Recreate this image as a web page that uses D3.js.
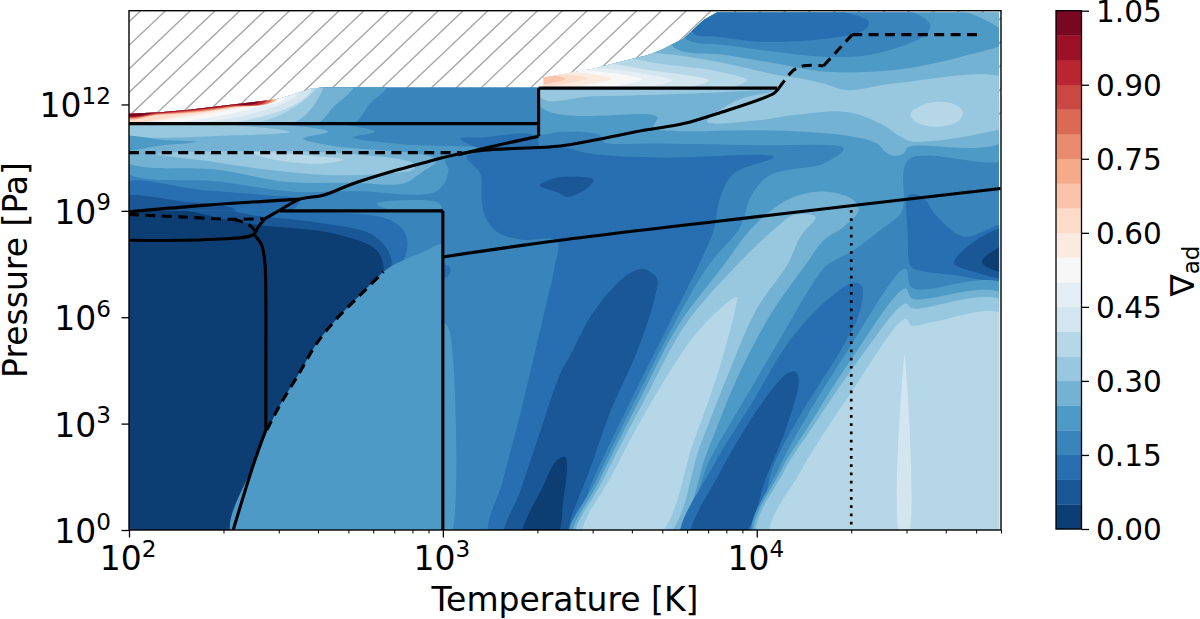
<!DOCTYPE html>
<html>
<head>
<meta charset="utf-8">
<script src="https://cdnjs.cloudflare.com/ajax/libs/d3/7.8.5/d3.min.js"></script>
<style>
  html, body { margin: 0; background: #fff; }
  text { font-family: "DejaVu Sans", sans-serif; fill: #000; }
</style>
</head>
<body>
<svg id="fig" width="1200" height="619"></svg>
<script>
// every contour below is [log10 T, log10 P]
const levels = [0,0.05,0.1,0.15,0.2,0.25,0.3,0.35,0.4,0.45,0.5,0.55,0.6,0.65,0.7,0.75,0.8,0.85,0.9,0.95,1,1.05];
const cbarTicks = [0,0.15,0.3,0.45,0.6,0.75,0.9,1.05];
const xMajor = [100,1000,10000];
const yMajor = [1,1e3,1e6,1e9,1e12];
const rdbu = ["#053061","#2166ac","#4393c3","#92c5de","#d1e5f0","#f7f7f7","#fddbc7","#f4a582","#d6604d","#b2182b","#67001f"];

// upper limit of the table, hatched above it
const tableEdge = [[2,11.74],[2.099,11.78],[2.184,11.84],[2.311,11.98],[2.417,12.09],[2.481,12.17],[2.534,12.31],[2.582,12.45],[2.619,12.48],[3.321,12.48],[3.321,12.76],[3.406,12.89],[3.48,13.01],[3.587,13.25],[3.65,13.39],[3.693,13.53],[3.767,13.86],[3.831,14.38],[3.873,14.59],[4.772,14.59],[4.772,0],[2,0]];

// low pressure side, T > 100 K, P above the 1e9 line
const midIdx4Left = [[2.609,11.5],[2.784,11.23],[2.715,11.07],[2.874,10.88],[3.129,10.76],[3.05,10.57],[3.007,10.43],[3.018,10.15],[2.981,9.56],[2.715,9.56],[2.524,9.54],[2.29,9.82],[1.98,10.15],[1.98,11.56]];
const midIdx5Left = [[2.396,11.5],[2.635,11.23],[2.555,11.04],[2.651,10.83],[2.927,10.6],[2.981,10.43],[2.927,10.05],[2.874,9.77],[2.715,9.79],[2.502,9.82],[2.29,10.15],[1.98,10.45],[1.98,11.56]];
const midIdx6Upper = [[1.98,11.5],[2.29,11.45],[2.513,11.23],[2.343,11.13],[1.98,11.2]];
const midIdx4Wedge = [[1.98,11.07],[2.109,11],[2.215,10.95],[2.109,10.85],[1.98,10.74]];
const midIdx6Mid = [[2.088,10.6],[2.396,10.69],[2.715,10.6],[2.906,10.33],[2.908,10.19],[2.821,10.05],[2.63,10.01],[2.449,10.15],[2.269,10.38]];
const midIdx7Mid = [[2.396,10.64],[2.566,10.57],[2.683,10.45],[2.609,10.33],[2.449,10.47]];
const midIdx2Left = [[1.98,9.77],[2.237,9.58],[2.439,9.44],[2.545,9.3],[2.492,8.9],[1.98,8.9]];
const midIdx1Left = [[1.98,9.38],[2.184,9.25],[2.332,9.07],[2.343,8.9],[1.98,8.9]];
const midIdx4Corner = [[2.789,9.21],[2.981,9.25],[2.996,9.09],[2.821,9.06]];
const midIdx2Sliver = [[3.055,11.04],[3.129,11.07],[3.289,11.13],[3.305,10.8],[3.129,10.74]];

// hot side, the two troughs and the ridge between them
const hotIdx2Big = [[3.076,10.52],[3.119,10.05],[3.124,9.3],[3.135,8.83],[3.172,8.41],[3.246,8.19],[3.363,8.15],[3.356,7.42],[3.321,6.06],[3.246,3.24],[3.193,1.45],[3.15,-0.2],[3.4,-0.2],[3.475,1.36],[3.602,3.71],[3.719,5.78],[3.815,7.47],[3.863,8.46],[3.884,9.39],[3.927,10.05],[4.054,10.52],[3.693,10.5],[3.48,10.6],[3.374,10.79],[3.129,10.69]];
const hotIdx1Blob = [[3.31,9.72],[3.352,9.91],[3.406,9.96],[3.48,9.88],[3.459,9.63],[3.395,9.39],[3.374,9.49]];
const hotIdx1Trough1 = [[3.197,-0.2],[3.246,1.08],[3.31,2.77],[3.374,4.41],[3.406,4.93],[3.48,6.15],[3.586,7.19],[3.639,7.36],[3.682,7.09],[3.677,6.62],[3.618,5.02],[3.533,3.33],[3.469,1.73],[3.411,0.42],[3.385,-0.2]];
const hotIdx0Trough1 = [[3.255,-0.2],[3.321,1.27],[3.363,1.97],[3.39,2.06],[3.395,1.73],[3.384,0.89],[3.36,-0.2]];
const hotIdx4Ridge = [[3.405,-0.2],[3.486,1.36],[3.616,3.71],[3.735,5.78],[3.847,7.47],[3.948,8.55],[3.98,9.39],[4.033,9.96],[4.097,10.15],[4.213,10.33],[4.277,10.76],[4.012,10.85],[3.693,10.9],[3.512,10.95],[3.501,11.13],[3.374,11.23],[3.31,11.18],[3.31,11.95],[4.8,11.95],[4.8,10.48],[4.484,10.45],[4.468,9.21],[4.458,8.92],[4.394,8.46],[4.309,7.89],[4.224,7.47],[4.182,7],[4.081,5.49],[3.969,3.8],[3.847,1.92],[3.745,-0.2]];
const hotIdx5Ridge = [[3.418,-0.2],[3.496,1.36],[3.629,3.71],[3.751,5.78],[3.895,7.47],[3.969,8.36],[4.033,8.92],[4.118,9.39],[4.224,9.54],[4.309,9.3],[4.325,9.02],[4.277,8.55],[4.213,8.17],[4.155,7.47],[4.043,6.06],[3.937,4.27],[3.842,2.2],[3.73,-0.2]];
const hotIdx6Ridge = [[3.426,-0.2],[3.507,1.36],[3.645,3.71],[3.772,5.78],[3.937,7.47],[4.065,8.55],[4.118,8.88],[4.187,8.83],[4.139,8.27],[4.097,7.47],[4.001,6.25],[3.916,4.55],[3.82,2.39],[3.708,-0.2]];
const hotIdx7Ridge = [[3.447,-0.2],[3.544,1.64],[3.671,3.71],[3.82,5.68],[3.937,6.57],[3.932,6.25],[3.884,4.65],[3.799,2.49],[3.68,-0.2]];
const hotIdx2Trough2 = [[3.76,-0.2],[3.863,1.83],[3.98,3.52],[4.118,5.49],[4.256,6.72],[4.314,6.98],[4.336,6.86],[4.325,6.06],[4.277,5.21],[4.139,3.24],[4.054,1.83],[3.978,-0.2]];
const hotIdx1Trough2 = [[3.793,-0.2],[3.884,1.64],[4.012,3.52],[4.097,4.41],[4.123,4.46],[4.134,4.23],[4.097,2.96],[4.033,1.55],[3.95,-0.2]];
const hotIdx4Low = [[3.99,-0.2],[4.065,1.64],[4.15,3.05],[4.288,5.03],[4.474,7.37],[4.495,6.83],[4.8,6.86],[4.8,-0.2]];
const hotIdx5Low = [[3.997,-0.2],[4.075,1.64],[4.16,2.86],[4.299,4.79],[4.474,6.81],[4.495,6.53],[4.8,6.58],[4.8,-0.2]];
const hotIdx6Low = [[4.005,-0.2],[4.086,1.64],[4.182,2.96],[4.32,4.74],[4.474,6.39],[4.495,6.25],[4.8,6.39],[4.8,-0.2]];
const hotIdx7Low = [[4.047,-0.2],[4.139,1.64],[4.224,2.86],[4.299,3.85],[4.474,5.96],[4.495,5.76],[4.564,5.87],[4.8,6.01],[4.8,-0.2]];
const hotIdx8Spike = [[4.458,-0.2],[4.471,4.93],[4.481,-0.2]];
const hotIdx4Strip = [[3,-0.2],[3.023,-0.2],[3.023,5.54],[3.007,5.82],[3,5.7]];
const hotIdx2Strip = [[3,7.47],[3.023,7.4],[3.02,7.2],[3,7.1]];
const hotIdx2Right = [[4.484,9.44],[4.527,9.39],[4.575,8.83],[4.66,8.27],[4.8,8.6],[4.8,7.12],[4.628,7.19],[4.5,7.37],[4.488,7.47],[4.481,8.36]];
const hotIdx1Right = [[4.628,7.56],[4.692,8.13],[4.8,8.5],[4.8,7.14],[4.692,7.28],[4.633,7.47]];
const hotIdx0Right = [[4.718,7.61],[4.8,8.03],[4.8,7.28],[4.724,7.47]];

// high pressure side
const topIdx5Big = [[3.31,14.8],[4.8,14.8],[4.8,11.04],[4.484,10.8],[4.468,10.62],[4.437,10.55],[4.41,10.66],[4.383,10.9],[4.277,11.13],[4.012,11.27],[3.746,11.25],[3.671,11.34],[3.682,11.65],[3.31,11.95]];
const topIdx6Big = [[3.31,14],[3.587,13.53],[3.746,13.39],[3.905,13.15],[4.065,12.83],[4.139,12.73],[4.213,12.59],[4.288,12.4],[4.437,12.59],[4.8,12.68],[4.8,11.46],[4.713,11.18],[4.5,10.95],[4.468,11.04],[4.394,11.46],[4.288,11.79],[4.118,11.7],[4.012,11.56],[3.842,11.51],[3.937,12.12],[4.054,12.38],[3.799,12.31],[3.48,12.23],[3.31,12.2]];
const topIdx7Lens = [[4.49,11.74],[4.516,11.93],[4.564,12.07],[4.628,12.01],[4.657,11.79],[4.639,11.51],[4.564,11.37],[4.506,11.51]];
const topIdx4 = [[3.735,13.62],[3.905,13.39],[4.065,13.15],[4.224,12.92],[4.437,12.97],[4.649,13.34],[4.798,13.77],[4.798,13.95],[4.628,14.7],[3.693,14.7]];
const topIdx3 = [[3.773,13.86],[3.905,13.67],[4.065,13.48],[4.224,13.34],[4.383,13.44],[4.543,14],[4.551,14.28],[4.458,14.7],[3.746,14.7]];
const topIdx2 = [[3.799,14],[3.873,13.91],[4.012,13.77],[4.224,13.86],[4.341,14.09],[4.357,14.33],[4.277,14.61],[4.224,14.7],[3.799,14.7]];

// lobes above the 2000 K step
const lobeIdx7 = [[3.31,14],[3.555,13.39],[3.693,13.15],[3.852,12.97],[3.969,12.68],[3.873,12.4],[3.31,12.4]];
const lobeIdx8 = [[3.31,14],[3.501,13.25],[3.629,13.01],[3.757,12.85],[3.847,12.68],[3.735,12.4],[3.31,12.4]];
const lobeIdx9 = [[3.31,14],[3.438,13.15],[3.555,12.97],[3.65,12.85],[3.73,12.68],[3.64,12.48],[3.31,12.4]];
const lobeIdx10 = [[3.31,13.53],[3.406,13.06],[3.48,12.95],[3.565,12.85],[3.634,12.71],[3.555,12.53],[3.31,12.45]];
const lobeIdx11 = [[3.31,13.01],[3.374,12.95],[3.459,12.87],[3.539,12.73],[3.47,12.57],[3.31,12.48]];
const lobeIdx12 = [[3.31,12.89],[3.374,12.85],[3.427,12.81],[3.459,12.73],[3.416,12.63],[3.31,12.54]];
const lobeIdx13 = [[3.31,12.83],[3.363,12.8],[3.39,12.72],[3.363,12.64],[3.31,12.59]];

// block above the solid 11.46 line, T < 2000 K
const stepIdx4 = [[2.704,11.4],[2.768,12.03],[2.821,12.48],[2.83,13.06],[1.98,13.06],[1.98,11.4]];
const stepIdx5 = [[2.587,11.4],[2.651,11.93],[2.715,12.48],[2.726,13.06],[1.98,13.06],[1.98,11.4]];
const stepIdx6 = [[2.502,11.4],[2.577,11.84],[2.619,12.48],[2.63,13.06],[1.98,13.06],[1.98,11.4]];
const stepIdx7 = [[2.354,11.4],[2.481,11.7],[2.577,12.26],[2.609,12.59],[2.63,13.06],[1.98,13.06],[1.98,11.4]];
const stepIdx8 = [[2.205,11.4],[2.396,11.6],[2.524,11.98],[2.577,12.34],[2.609,13.06],[1.98,13.06],[1.98,11.4]];
const stepIdx9 = [[1.98,11.45],[2.29,11.56],[2.449,11.89],[2.534,12.26],[2.566,13.06],[1.98,13.06]];
const stepIdx10 = [[1.98,11.51],[2.237,11.6],[2.396,11.89],[2.502,12.2],[2.534,13.06],[1.98,13.06]];
const stepIdx11 = [[1.98,11.58],[2.184,11.65],[2.343,11.89],[2.47,12.14],[2.502,13.06],[1.98,13.06]];
const stepIdx12 = [[1.98,11.6],[2.184,11.71],[2.343,11.93],[2.449,12.12],[2.481,13.06],[1.98,13.06]];
const stepIdx14 = [[1.98,11.64],[2.099,11.71],[2.205,11.77],[2.322,11.91],[2.47,12.14],[2.481,13.06],[1.98,13.06]];
const stepIdx16 = [[1.98,11.68],[2.099,11.73],[2.205,11.8],[2.322,11.93],[2.455,12.12],[2.47,13.06],[1.98,13.06]];
const stepIdx18 = [[1.98,11.71],[2.099,11.75],[2.205,11.83],[2.322,11.95],[2.439,12.1],[2.46,13.06],[1.98,13.06]];
const stepIdx20 = [[1.98,11.73],[2.099,11.77],[2.205,11.85],[2.322,11.98],[2.417,12.09],[2.44,13.06],[1.98,13.06]];

// block below 1e9 Pa, T < 1000 K
const coldIdx2 = [[1.98,9.2],[2.481,9],[2.821,8.78],[2.874,8.45],[2.887,8.08],[2.874,7.61],[2.832,7.28],[2.29,-0.2],[1.98,-0.2]];
const coldIdx1 = [[1.98,9.1],[2.428,8.83],[2.609,8.66],[2.768,8.36],[2.821,7.94],[2.837,7.52],[2.82,7.2],[2.2,-0.2],[1.98,-0.2]];
const coldIdx0 = [[1.98,8.86],[2.332,8.72],[2.412,8.6],[2.651,8.36],[2.789,7.89],[2.811,7.33],[2.8,7.14],[2.3,-0.2],[1.98,-0.2]];
const coldIdx4Gas = [[2.33,-0.2],[2.396,1.83],[2.439,2.77],[2.481,3.52],[2.545,4.46],[2.598,5.26],[2.662,5.96],[2.736,6.62],[2.811,7.28],[2.853,7.52],[2.927,7.8],[3.018,8.03],[3.018,-0.2]];

// black phase boundaries
const solidLines = [
  [[2,11.46],[3.305,11.46]],
  [[3.305,12.46],[3.305,11.1]],
  [[3.305,12.46],[4.065,12.46]],
  [[3.305,11.1],[3.129,10.76],[3.05,10.58]],
  [[2.433,8.78],[2.481,9.02],[2.545,9.33],[2.619,9.44],[2.715,9.77],[2.853,10.15],[2.949,10.38],[3.05,10.6],[3.129,10.71],[3.374,10.83],[3.48,10.99],[3.64,11.27],[3.767,11.46],[3.873,11.74],[4.054,12.31],[4.07,12.45]],
  [[2,8.97],[2.247,9.16],[2.545,9.33]],
  [[2,8.17],[2.247,8.19],[2.396,8.33],[2.412,8.55],[2.433,8.78]],
  [[2.401,8.31],[2.423,8.03],[2.433,7.52],[2.436,6.5],[2.436,4.5],[2.436,2.82]],
  [[2.436,2.82],[2.396,1.83],[2.332,0]],
  [[2.481,9],[3,9]],
  [[3,9],[3,0]],
  [[3,7.7],[3.374,8.17],[4.075,8.91],[4.777,9.63]]
];
const dashedLines = [
  [[2,10.64],[3.06,10.64]],
  [[4.07,12.45],[4.118,12.97],[4.15,13.09],[4.213,13.09]],
  [[4.213,13.09],[4.304,13.97]],
  [[4.304,13.97],[4.702,13.97]],
  [[2,8.9],[2.162,8.83],[2.332,8.76],[2.428,8.78]],
  [[2.332,8.76],[2.38,8.62],[2.401,8.44]],
  [[2.439,2.82],[2.481,3.52],[2.545,4.46],[2.598,5.26],[2.662,5.96],[2.736,6.62],[2.811,7.28]]
];
const dottedLine = [[4.301,9.02],[4.301,0]];

const midLayers = [[4,midIdx4Left],[5,midIdx5Left],[6,midIdx6Upper],[4,midIdx4Wedge],[6,midIdx6Mid],[7,midIdx7Mid],[2,midIdx2Left],[1,midIdx1Left],[4,midIdx4Corner],[2,midIdx2Sliver]];
const hotLayers = [[2,hotIdx2Big],[1,hotIdx1Blob],[1,hotIdx1Trough1],[0,hotIdx0Trough1],[4,hotIdx4Ridge],[5,topIdx5Big],[6,topIdx6Big],[7,topIdx7Lens],[4,topIdx4],[3,topIdx3],[2,topIdx2],[5,hotIdx5Ridge],[6,hotIdx6Ridge],[7,hotIdx7Ridge],[2,hotIdx2Trough2],[1,hotIdx1Trough2],[2,hotIdx2Right],[1,hotIdx1Right],[0,hotIdx0Right],[4,hotIdx4Low],[5,hotIdx5Low],[6,hotIdx6Low],[7,hotIdx7Low],[8,hotIdx8Spike],[4,hotIdx4Strip],[2,hotIdx2Strip]];
const lobeLayers = [[7,lobeIdx7],[8,lobeIdx8],[9,lobeIdx9],[10,lobeIdx10],[11,lobeIdx11],[12,lobeIdx12],[13,lobeIdx13]];
const stepLayers = [[4,stepIdx4],[5,stepIdx5],[6,stepIdx6],[7,stepIdx7],[8,stepIdx8],[9,stepIdx9],[10,stepIdx10],[11,stepIdx11],[12,stepIdx12],[14,stepIdx14],[16,stepIdx16],[18,stepIdx18],[20,stepIdx20]];
const coldLayers = [[2,coldIdx2],[1,coldIdx1],[0,coldIdx0],[4,coldIdx4Gas]];

const svg = d3.select("#fig");
const L = 129, R = 1001, T = 10.7, B = 530;
const x = d3.scaleLog().domain([100, 60000]).range([L, R]);
const y = d3.scaleLog().domain([1, 4.4e14]).range([B, T]);

const rdbuPos = d3.scaleLinear().domain(d3.range(11).map(i => i / 10)).range(rdbu);
const bandColor = i => rdbuPos((i + 0.5) / 21);

const px = d => x(10 ** d[0]), py = d => y(10 ** d[1]);
const contour = d3.line().x(px).y(py).curve(d3.curveCatmullRomClosed.alpha(0.5));
const polyline = d3.line().x(px).y(py).curve(d3.curveLinear);
const smooth = d3.line().x(px).y(py).curve(d3.curveCatmullRom.alpha(0.5));

const defs = svg.append("defs");
function clipRect(id, t0, t1, p0, p1) {
  defs.append("clipPath").attr("id", id).append("rect")
    .attr("x", x(10 ** t0)).attr("y", y(10 ** p1))
    .attr("width", x(10 ** t1) - x(10 ** t0)).attr("height", y(10 ** p0) - y(10 ** p1));
}
defs.append("clipPath").attr("id", "tableClip").append("path")
  .attr("d", polyline(tableEdge) + "Z");
clipRect("stepClip", 2, 3.305, 11.46, 14.6);
clipRect("coldClip", 2, 3, 0, 9);
clipRect("lobeClip", 3.31, 4.1, 12.47, 14.6);
clipRect("plotClip", 2, Math.log10(60000), 0, Math.log10(4.4e14));

// hatching for the part with no table values
const hatch = svg.append("g").attr("clip-path", "url(#plotClip)")
  .attr("stroke", "#a6a6a6").attr("stroke-width", 1.4);
d3.range(0, 40).forEach(k => {
  const x0 = 140.7 + 24.8 * k;
  hatch.append("line").attr("x1", x0).attr("y1", T)
    .attr("x2", x0 - 600).attr("y2", T + 600 * 0.95);
});

const table = svg.append("g").attr("clip-path", "url(#tableClip)");
function paint(parent, layers) {
  parent.selectAll("path.band").data(layers).join("path")
    .attr("class", "band")
    .attr("d", d => contour(d[1]))
    .attr("fill", d => bandColor(d[0]));
}
function base(parent, i) {
  parent.append("rect").attr("x", L - 5).attr("y", T - 5)
    .attr("width", R - L + 10).attr("height", B - T + 10)
    .attr("fill", bandColor(i));
}

const mainG = table.append("g");
base(mainG, 3);
paint(mainG.append("g"), midLayers);
paint(mainG.append("g"), hotLayers);
paint(table.append("g").attr("clip-path", "url(#lobeClip)"), lobeLayers);
const stepG = table.append("g").attr("clip-path", "url(#stepClip)");
base(stepG, 3);
paint(stepG.append("g"), stepLayers);
const coldG = table.append("g").attr("clip-path", "url(#coldClip)");
base(coldG, 3);
paint(coldG.append("g"), coldLayers);

// phase boundaries
const curves = svg.append("g").attr("fill", "none").attr("stroke", "#000")
  .attr("clip-path", "url(#plotClip)");
curves.selectAll("path.solid").data(solidLines).join("path")
  .attr("class", "solid").attr("d", smooth).attr("stroke-width", 3.1);
curves.selectAll("path.dash").data(dashedLines).join("path")
  .attr("class", "dash").attr("d", smooth).attr("stroke-width", 3.1)
  .attr("stroke-dasharray", "10 6.4");
curves.append("path").attr("d", polyline(dottedLine)).attr("stroke-width", 2.7)
  .attr("stroke-dasharray", "2.7 5.5");

// spines
svg.append("rect").attr("x", L).attr("y", T).attr("width", R - L).attr("height", B - T)
  .attr("fill", "none").attr("stroke", "#000").attr("stroke-width", 1.4);

const FS = 33, FS_BAR = 29.5;
function powerLabel(sel, exp) {
  sel.append("tspan").text("10");
  sel.append("tspan").text(exp).attr("dy", -13.5).attr("font-size", FS * 0.7);
}

// x axis through the library, labels rewritten as powers of ten
const xMinor = x.ticks().filter(v => !xMajor.includes(v));
const ax = svg.append("g").attr("transform", `translate(0,${B})`);
ax.call(d3.axisBottom(x).tickValues(xMajor).tickSize(7.5).tickFormat(""));
ax.select(".domain").remove();
ax.selectAll(".tick line").attr("stroke-width", 1.3);
const axMinor = svg.append("g").attr("transform", `translate(0,${B})`);
axMinor.call(d3.axisBottom(x).tickValues(xMinor).tickSize(3.5).tickFormat(""));
axMinor.select(".domain").remove();
axMinor.selectAll(".tick line").attr("stroke-width", 1);
xMajor.forEach(v => {
  svg.append("text").attr("x", x(v) - 1).attr("y", 570).attr("text-anchor", "middle")
    .attr("font-size", FS).call(powerLabel, Math.round(Math.log10(v)));
});

const ay = svg.append("g").attr("transform", `translate(${L},0)`);
ay.call(d3.axisLeft(y).tickValues(yMajor).tickSize(7.5).tickFormat(""));
ay.select(".domain").remove();
ay.selectAll(".tick line").attr("stroke-width", 1.3);
yMajor.forEach(v => {
  svg.append("text").attr("x", 111).attr("y", y(v) + 13).attr("text-anchor", "end")
    .attr("font-size", FS).call(powerLabel, Math.round(Math.log10(v)));
});

svg.append("text").attr("x", 565).attr("y", 611).attr("text-anchor", "middle")
  .attr("font-size", FS).text("Temperature [K]");
svg.append("text").attr("transform", "translate(26.5,270) rotate(-90)")
  .attr("text-anchor", "middle").attr("font-size", FS).text("Pressure [Pa]");

// colorbar
const cbL = 1056, cbR = 1081.5;
const cy = d3.scaleLinear().domain([0, 1.05]).range([529, 10.7]);
const cb = svg.append("g");
cb.selectAll("rect").data(d3.range(21)).join("rect")
  .attr("x", cbL).attr("width", cbR - cbL)
  .attr("y", i => cy(levels[i + 1])).attr("height", i => cy(levels[i]) - cy(levels[i + 1]) + 0.3)
  .attr("fill", bandColor);
cb.append("rect").attr("x", cbL).attr("y", cy(1.05)).attr("width", cbR - cbL)
  .attr("height", cy(0) - cy(1.05)).attr("fill", "none").attr("stroke", "#000").attr("stroke-width", 1.3);
const cax = svg.append("g").attr("transform", `translate(${cbR},0)`);
cax.call(d3.axisRight(cy).tickValues(cbarTicks).tickSize(7.5).tickFormat(""));
cax.select(".domain").remove();
cax.selectAll(".tick line").attr("stroke-width", 1.3);
cbarTicks.forEach(v => {
  svg.append("text").attr("x", 1096).attr("y", cy(v) + 11).attr("font-size", FS_BAR).text(v.toFixed(2));
});
const cbLabel = svg.append("text").attr("transform", "translate(1194,271) rotate(-90)")
  .attr("text-anchor", "middle").attr("font-size", FS);
cbLabel.append("tspan").text("∇");
cbLabel.append("tspan").text("ad").attr("dy", 5).attr("font-size", FS * 0.7);
</script>
</body>
</html>
